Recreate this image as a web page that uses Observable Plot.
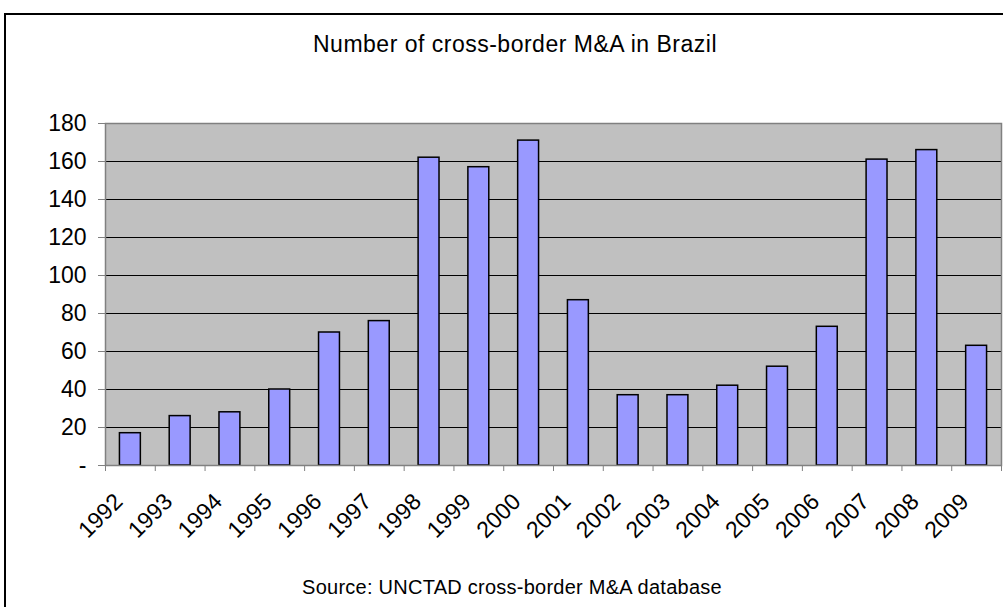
<!DOCTYPE html>
<html>
<head>
<meta charset="utf-8">
<script src="https://cdn.jsdelivr.net/npm/d3@7"></script>
<script src="https://cdn.jsdelivr.net/npm/@observablehq/plot@0.6"></script>
<style>
  html, body { margin: 0; padding: 0; background: white; }
  body { width: 1003px; height: 607px; position: relative; overflow: hidden; font-family: "Liberation Sans", Arial, sans-serif; }
  #frame { position: absolute; left: 4px; top: 13px; width: 1100px; height: 700px; border: 2px solid black; box-sizing: border-box; }
  #title { position: absolute; left: 0; width: 1030px; top: 33px; text-align: center; font-size: 23px; line-height: 23px; letter-spacing: 0.5px; color: black; white-space: nowrap; }
  #caption { position: absolute; left: 0; width: 1024px; top: 577px; text-align: center; font-size: 20px; line-height: 20px; letter-spacing: 0.25px; color: black; white-space: nowrap; }
  #chart { position: absolute; left: 0; top: 0; }
</style>
</head>
<body>
<div id="frame"></div>
<div id="title">Number of cross-border M&amp;A in Brazil</div>
<div id="chart"></div>
<div id="caption">Source: UNCTAD cross-border M&amp;A database</div>
<script>
const years = [1992, 1993, 1994, 1995, 1996, 1997, 1998, 1999, 2000, 2001, 2002, 2003, 2004, 2005, 2006, 2007, 2008, 2009];
const deals = [17, 26, 28, 40, 70, 76, 162, 157, 171, 87, 37, 37, 42, 52, 73, 161, 166, 63];
const yTicks = [0, 20, 40, 60, 80, 100, 120, 140, 160, 180];

const data = years.map((year, i) => ({year, value: deals[i]}));
const boundaries = years.map(y => y - 0.5).concat([years[years.length - 1] + 0.5]);
const halfBar = 0.21;

const chart = Plot.plot({
  width: 1003,
  height: 607,
  marginLeft: 105,
  marginRight: 2,
  marginTop: 123,
  marginBottom: 142,
  style: {background: "transparent", fontFamily: "Liberation Sans, Arial, sans-serif", fontSize: "23px", color: "black"},
  x: {type: "linear", domain: [boundaries[0], boundaries[boundaries.length - 1]], axis: null},
  y: {domain: [0, 180], axis: null, label: null},
  marks: [
    Plot.frame({fill: "#C0C0C0", stroke: null}),
    Plot.gridY(yTicks.filter(d => d > 0 && d < 180), {stroke: "black", strokeOpacity: 1, strokeWidth: 1}),
    Plot.rectY(data, {x1: d => d.year - halfBar, x2: d => d.year + halfBar, y1: 0, y2: "value", fill: "#9999FF", stroke: "black", strokeWidth: 1.5}),
    Plot.frame({stroke: "#808080", strokeWidth: 1.5}),
    Plot.axisY(yTicks, {label: null, tickSize: 7, tickPadding: 12, stroke: "#808080", fill: "black", fontSize: 23, tickFormat: d => d === 0 ? "-" : String(d)}),
    Plot.axisX(boundaries, {label: null, tickSize: 6, stroke: "#808080", tickFormat: () => ""}),
    Plot.text(years, {x: d => d, y: d => 0, text: d => String(d), rotate: -45, textAnchor: "end", lineAnchor: "top", dx: -18, dy: 26, fontSize: 23, fill: "black"})
  ]
});
document.getElementById("chart").appendChild(chart);
</script>
</body>
</html>
